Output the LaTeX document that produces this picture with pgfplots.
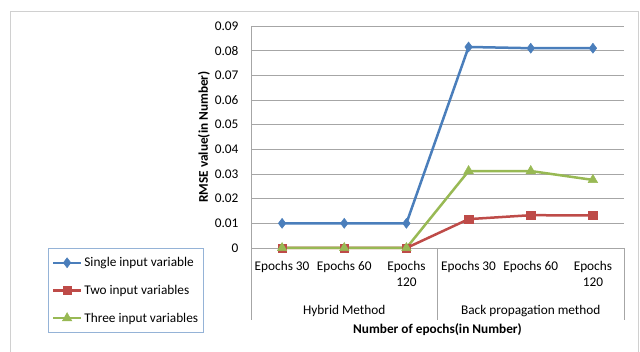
\documentclass[border=0pt]{standalone}
\usepackage{fontspec}
\setmainfont{Carlito}
\usepackage{pgfplots}
\pgfplotsset{compat=1.18}
\definecolor{cblue}{HTML}{4A7EBB}
\definecolor{cred}{HTML}{BE4B48}
\definecolor{cgreen}{HTML}{98B954}
\definecolor{gridc}{HTML}{A6A6A6}
\definecolor{legb}{HTML}{95B3D7}
\definecolor{outerc}{HTML}{D0D0D0}
\begin{document}
\begin{tikzpicture}[font=\fontsize{13.3}{16}\selectfont]
\useasboundingbox (0,0) rectangle (640pt,352pt);
\draw[outerc, line width=1pt] (10pt,-2pt) -- (10pt,340pt) -- (638pt,340pt) -- (638pt,-2pt);
\begin{axis}[
  at={(251pt,104pt)}, anchor=south west,
  scale only axis, width=373pt, height=222pt,
  xmin=-0.5, xmax=5.5, ymin=0, ymax=0.09,
  axis x line*=bottom, axis y line*=left,
  axis line style={gridc, line width=0.8pt},
  separate axis lines,
  x axis line style={-}, y axis line style={-},
  xtick={0,1,2,3,4,5},
  xticklabels={{Epochs 30},{Epochs 60},{Epochs\\120},{Epochs 30},{Epochs 60},{Epochs\\120}},
  xticklabel style={align=center, yshift=-10pt},
  scaled y ticks=false,
  ytick={0,0.01,0.02,0.03,0.04,0.05,0.06,0.07,0.08,0.09},
  yticklabels={0,0.01,0.02,0.03,0.04,0.05,0.06,0.07,0.08,0.09},
  yticklabel style={xshift=-9pt},
  major tick style={draw=none},
  ymajorgrids, grid style={gridc, line width=0.8pt},
  clip=false,
  legend style={at={(rel axis cs:-0.543,0)}, anchor=north west, draw=legb, line width=0.8pt,
    inner xsep=3pt, inner ysep=7pt, row sep=13pt, font=\fontsize{13.3}{16}\selectfont,
    cells={anchor=west}},
  legend image code/.code={\draw[#1, mark repeat=2, mark phase=2] plot coordinates {(0pt,0pt) (14pt,0pt) (28pt,0pt)};},
]
\addplot[cblue, line width=2.5pt, mark=diamond*, mark size=5pt, mark options={solid, fill=cblue, line width=0.5pt}]
  coordinates {(0,0.01) (1,0.01) (2,0.01) (3,0.0815) (4,0.081) (5,0.081)};
\addlegendentry{Single input variable}
\addplot[cred, line width=2.5pt, mark=square*, mark size=4.2pt, mark options={solid, fill=cred, line width=0.5pt}]
  coordinates {(0,0) (1,0) (2,0) (3,0.0117) (4,0.0133) (5,0.0132)};
\addlegendentry{Two input variables}
\addplot[cgreen, line width=2.5pt, mark=triangle*, mark size=5.5pt, mark options={solid, fill=cgreen, line width=0.5pt}]
  coordinates {(0,0) (1,0) (2,0) (3,0.0312) (4,0.0312) (5,0.0276)};
\addlegendentry{Three input variables}
\end{axis}
% axis origin (251pt,104pt), category spacing 373/6 pt
\draw[gridc, line width=0.8pt] (251pt,104pt) -- (251pt,32pt);
\draw[gridc, line width=0.8pt] (437.5pt,104pt) -- (437.5pt,32pt);
\draw[gridc, line width=0.8pt] (624pt,104pt) -- (624pt,32pt);
\node at (344.25pt,41pt) {Hybrid Method};
\node at (530.75pt,41pt) {Back propagation method};
\node[font=\fontsize{13.3}{16}\selectfont\bfseries] at (437.5pt,22pt) {Number of epochs(in Number)};
\node[rotate=90, font=\fontsize{13.3}{16}\selectfont\bfseries] at (204pt,215pt) {RMSE value(in Number)};
\end{tikzpicture}
\end{document}
